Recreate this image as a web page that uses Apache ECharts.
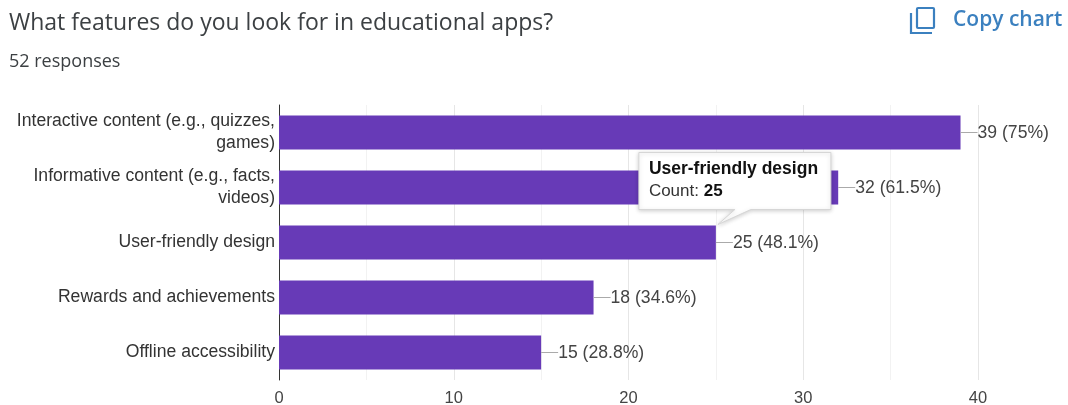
<!DOCTYPE html>
<html>
<head>
<meta charset="utf-8">
<style>html,body{margin:0;padding:0;background:#fff}#chart{width:1068px;height:405px}</style>
<script src="https://cdn.jsdelivr.net/npm/echarts@6/dist/echarts.min.js"></script>
</head>
<body>
<div id="chart"></div>
<script>
// Survey results: feature preferences for educational apps
const categories = [
  'Interactive content (e.g., quizzes,\ngames)',
  'Informative content (e.g., facts,\nvideos)',
  'User-friendly design',
  'Rewards and achievements',
  'Offline accessibility'
];
const counts = [39, 32, 25, 18, 15];
const percentLabels = ['75%', '61.5%', '48.1%', '34.6%', '28.8%'];
const tooltipIndex = 2;
const questionTitle = 'What features do you look for in educational apps?';
const responsesText = '52 responses';
const copyText = 'Copy chart';

const labelFont = 'Liberation Sans';
const purple = '#673ab7';
const copyBlue = '#3b80bf';

// Callout box with its pointer, anchored at the end of the highlighted bar
function renderCallout(params, api) {
  const tip = api.coord([counts[tooltipIndex], tooltipIndex]);
  const barTop = tip[1] - 17;
  const left = tip[0] - 77, right = tip[0] + 115, top = barTop - 73, bottom = barTop - 16;
  const name = categories[tooltipIndex];
  return {
    type: 'group',
    children: [
      {
        type: 'polygon',
        shape: { points: [[left, top], [right, top], [right, bottom], [tip[0] + 35, bottom], [tip[0] + 2, barTop - 1], [tip[0] + 19, bottom], [left, bottom]] },
        style: { fill: '#fff', stroke: '#d6d6d6', lineWidth: 1, shadowBlur: 4, shadowColor: 'rgba(0,0,0,0.18)', shadowOffsetY: 1 }
      },
      {
        type: 'text',
        style: { x: left + 10, y: top + 8, text: name, fill: '#111', fontFamily: labelFont, fontWeight: 'bold', fontSize: 17.5 }
      },
      {
        type: 'text',
        style: {
          x: left + 10, y: top + 30, fill: '#222',
          text: '{a|Count: }{b|' + counts[tooltipIndex] + '}',
          rich: {
            a: { fontFamily: labelFont, fontSize: 17, fill: '#333' },
            b: { fontFamily: labelFont, fontWeight: 'bold', fontSize: 17, fill: '#111' }
          }
        }
      }
    ]
  };
}

const chart = echarts.init(document.getElementById('chart'), null, { renderer: 'canvas' });
chart.setOption({
  animation: false,
  backgroundColor: '#fff',
  title: [
    { text: questionTitle, left: 9, top: 12, padding: 0,
      textStyle: { fontFamily: 'Open Sans', fontSize: 23, fontWeight: 400, color: '#3c4043' } },
    { text: responsesText, left: 9, top: 53, padding: 0,
      textStyle: { fontFamily: 'Open Sans', fontSize: 18, fontWeight: 400, color: '#3c4043' } },
    { text: copyText, left: 953, top: 10, padding: 0,
      textStyle: { fontFamily: 'Open Sans', fontSize: 21, fontWeight: 600, color: copyBlue } }
  ],
  grid: { left: 279, top: 105, width: 699, height: 275, containLabel: false, outerBoundsMode: 'none' },
  xAxis: {
    type: 'value', min: 0, max: 40, interval: 10,
    axisLine: { show: false }, axisTick: { show: false },
    splitLine: { show: true, lineStyle: { color: '#e6e6e6', width: 1 } },
    minorTick: { show: false, splitNumber: 2 },
    minorSplitLine: { show: true, lineStyle: { color: '#f2f2f2', width: 1 } },
    axisLabel: { color: '#444', fontFamily: labelFont, fontSize: 16.5, margin: 10 }
  },
  yAxis: {
    type: 'category', data: categories, inverse: true,
    axisLine: { show: true, onZero: false, lineStyle: { color: '#333', width: 1 } },
    axisTick: { show: false },
    splitLine: { show: false },
    axisLabel: { color: '#333', fontFamily: labelFont, fontSize: 17.6, lineHeight: 22, margin: 4, align: 'right' }
  },
  series: [
    {
      type: 'bar', data: counts, barWidth: 34, z: 2,
      itemStyle: { color: purple },
      label: {
        show: true, position: 'right', distance: 0,
        fontFamily: labelFont, fontSize: 17.6, color: '#444',
        formatter: p => '{dash|}{txt|' + p.value + ' (' + percentLabels[p.dataIndex] + ')}',
        rich: {
          dash: { width: 17, height: 1, backgroundColor: '#aaa' },
          txt: { fontFamily: labelFont, fontSize: 17.6, color: '#444', padding: [1, 0, 0, 0] }
        }
      }
    },
    {
      type: 'custom', z: 10, silent: true, clip: false,
      data: [[counts[tooltipIndex], tooltipIndex]],
      encode: { x: 0, y: 1 },
      renderItem: renderCallout
    }
  ],
  graphic: [
    // "Copy" glyph beside the action label
    { type: 'rect', shape: { x: 917, y: 8, width: 17, height: 20, r: 1 }, z: 5,
      style: { fill: 'none', stroke: copyBlue, lineWidth: 2.2 } },
    { type: 'polyline', shape: { points: [[911, 13], [911, 33], [932, 33]] }, z: 5,
      style: { fill: 'none', stroke: copyBlue, lineWidth: 2.2 } }
  ]
});
</script>
</body>
</html>
